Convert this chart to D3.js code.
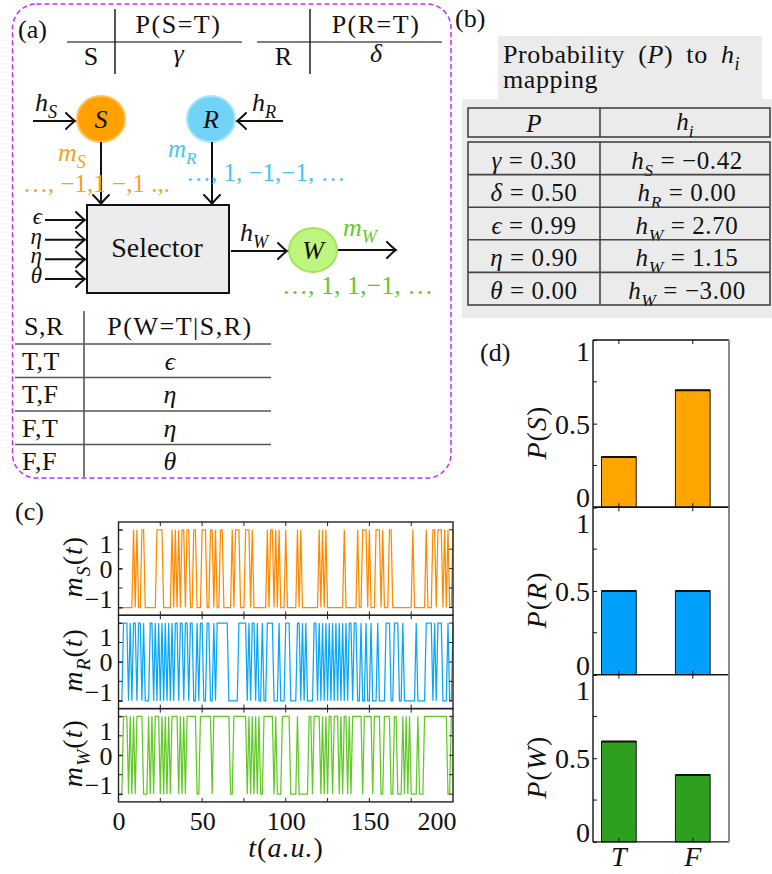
<!DOCTYPE html>
<html>
<head>
<meta charset="utf-8">
<script src="https://cdn.jsdelivr.net/npm/d3@7"></script>
<style>
  html, body { margin: 0; padding: 0; background: #fff; }
  svg { display: block; }
</style>
</head>
<body>
<svg id="fig" width="772" height="874"></svg>
<script>
// ---------------- data ----------------
// spin trajectories m(t) for t = 0..200
const mS = [
  -1,-1,-1,-1,-1,-1,-1,-1,-1, 1,
  -1, 1,-1,-1, 1, 1,-1,-1,-1,-1,
  -1,-1,-1, 1, 1, 1, 1,-1,-1,-1,
  -1,-1, 1,-1, 1,-1, 1,-1, 1, 1,
  -1, 1, 1,-1,-1, 1, 1,-1,-1,-1,
   1, 1, 1,-1,-1, 1, 1,-1, 1,-1,
  -1, 1, 1,-1,-1,-1,-1,-1, 1,-1,
   1, 1, 1,-1,-1,-1, 1, 1, 1,-1,
   1,-1,-1,-1,-1,-1,-1,-1,-1, 1,
  -1, 1, 1,-1, 1,-1, 1,-1,-1,-1,
   1,-1,-1,-1,-1,-1,-1, 1,-1, 1,
  -1,-1,-1,-1,-1,-1,-1,-1,-1,-1,
   1,-1, 1,-1, 1,-1,-1,-1,-1,-1,
  -1,-1,-1,-1,-1, 1,-1,-1,-1,-1,
  -1,-1,-1, 1,-1,-1, 1, 1, 1,-1,
   1,-1,-1,-1, 1, 1, 1,-1, 1,-1,
  -1,-1, 1, 1,-1,-1,-1,-1,-1,-1,
  -1,-1,-1,-1,-1,-1, 1,-1,-1,-1,
  -1,-1,-1,-1, 1,-1,-1,-1, 1, 1,
  -1, 1, 1, 1,-1, 1,-1, 1,-1,-1,
   1
];
const mR = [
  -1,-1,-1, 1, 1, 1,-1, 1,-1, 1,
   1,-1, 1, 1,-1, 1,-1,-1,-1, 1,
   1,-1, 1,-1, 1,-1, 1,-1, 1,-1,
   1,-1, 1,-1, 1, 1,-1, 1, 1,-1,
   1, 1,-1, 1, 1,-1,-1, 1,-1, 1,
   1,-1,-1, 1, 1,-1,-1, 1,-1, 1,
   1, 1, 1, 1, 1, 1,-1,-1,-1,-1,
  -1,-1, 1, 1, 1, 1, 1,-1, 1,-1,
   1, 1,-1, 1,-1,-1, 1,-1,-1, 1,
   1, 1, 1,-1,-1,-1, 1,-1,-1,-1,
   1, 1, 1,-1,-1,-1,-1, 1, 1,-1,
   1,-1, 1,-1,-1,-1,-1, 1, 1,-1,
   1,-1, 1,-1, 1,-1, 1,-1, 1,-1,
   1,-1, 1,-1, 1,-1, 1,-1, 1, 1,
  -1, 1, 1,-1,-1, 1,-1,-1, 1,-1,
  -1, 1,-1,-1,-1, 1,-1,-1,-1,-1,
   1, 1, 1,-1,-1, 1, 1, 1,-1,-1,
   1,-1,-1,-1,-1,-1,-1,-1, 1,-1,
  -1,-1,-1,-1, 1, 1, 1, 1,-1, 1,
  -1, 1, 1, 1,-1,-1,-1, 1,-1,-1,
   1
];
const mW = [
  -1,-1,-1, 1, 1, 1,-1, 1,-1, 1,
  -1, 1, 1, 1, 1,-1,-1,-1, 1,-1,
   1,-1, 1, 1, 1,-1, 1,-1, 1,-1,
   1,-1, 1, 1, 1, 1,-1, 1,-1, 1,
  -1, 1, 1, 1, 1, 1, 1,-1,-1, 1,
   1, 1, 1, 1, 1, 1,-1, 1, 1, 1,
   1, 1, 1, 1, 1, 1, 1,-1,-1, 1,
   1, 1, 1, 1, 1, 1, 1,-1, 1,-1,
   1,-1, 1,-1, 1,-1,-1, 1, 1, 1,
   1, 1, 1,-1, 1,-1,-1,-1, 1, 1,
   1, 1, 1,-1,-1,-1,-1, 1,-1,-1,
  -1,-1,-1,-1, 1, 1,-1, 1, 1, 1,
   1,-1, 1,-1, 1,-1, 1, 1,-1, 1,
   1, 1,-1, 1,-1, 1, 1,-1, 1,-1,
   1, 1, 1, 1, 1, 1,-1, 1, 1, 1,
   1, 1,-1, 1, 1, 1, 1,-1,-1, 1,
   1, 1, 1,-1,-1, 1, 1,-1,-1,-1,
   1,-1, 1,-1, 1,-1,-1,-1,-1, 1,
  -1,-1,-1, 1, 1, 1, 1, 1, 1, 1,
   1, 1, 1, 1, 1, 1, 1,-1,-1, 1,
   1
];
const timeTicks = [0, 50, 100, 150, 200];
const spinTicks = [-1, 0, 1];

// marginal probabilities for T / F
const states = ["T", "F"];
const probS = [0.30, 0.70];
const probR = [0.50, 0.50];
const probW = [0.60, 0.40];
const probTicks = [0, 0.5, 1];

// probability -> field mapping table
const mapSymbols = ["γ", "δ", "ϵ", "η", "θ"];
const mapProbs = ["0.30", "0.50", "0.99", "0.90", "0.00"];
const mapNodes = ["S", "R", "W", "W", "W"];
const mapFields = ["−0.42", "0.00", "2.70", "1.15", "−3.00"];

// conditional table of the selector
const condRows = ["T,T", "T,F", "F,T", "F,F"];
const condSymbols = ["ϵ", "η", "η", "θ"];
const selectorInputs = ["ϵ", "η", "η", "θ"];

// ---------------- helpers ----------------
const FONT = "'Liberation Serif', 'DejaVu Serif', serif";
const svg = d3.select("#fig");
svg.append("rect").attr("width", 772).attr("height", 874).attr("fill", "#fff");
const INK = "#111";

// text with italic / subscript parts: [string, style] where style is
// "r" roman, "i" italic, "sr" subscript roman, "si" subscript italic
function rich(parent, x, y, parts, o = {}) {
  const size = o.size || 24;
  const t = parent.append("text")
    .attr("x", x).attr("y", y)
    .attr("font-family", FONT)
    .attr("font-size", size)
    .attr("fill", o.fill || INK)
    .attr("text-anchor", o.anchor || "start");
  if (o.ls) t.attr("letter-spacing", o.ls);
  if (o.rotate) t.attr("transform", `rotate(${o.rotate},${x},${y})`);
  let shift = 0;
  parts.forEach(p => {
    const [str, style] = typeof p === "string" ? [p, "r"] : p;
    const sub = style[0] === "s";
    const target = sub ? size * 0.28 : 0;
    const ts = t.append("tspan").text(str)
      .attr("font-family", FONT)
      .attr("font-style", style.endsWith("i") ? "italic" : "normal")
      .attr("font-size", sub ? size * 0.7 : size);
    if (target !== shift) { ts.attr("dy", target - shift); shift = target; }
  });
  return t;
}

const defs = svg.append("defs");
defs.append("marker")
  .attr("id", "tip")
  .attr("viewBox", "-12 -10 14 20")
  .attr("refX", 0).attr("refY", 0)
  .attr("markerWidth", 14).attr("markerHeight", 20)
  .attr("markerUnits", "userSpaceOnUse")
  .attr("orient", "auto")
  .append("path")
  .attr("d", "M-9,-8 Q-3,-2 0,0 Q-3,2 -9,8")
  .attr("fill", "none").attr("stroke", INK)
  .attr("stroke-width", 2).attr("stroke-linecap", "round");

function arrow(parent, x1, y1, x2, y2) {
  parent.append("line")
    .attr("x1", x1).attr("y1", y1).attr("x2", x2).attr("y2", y2)
    .attr("stroke", INK).attr("stroke-width", 2)
    .attr("marker-end", "url(#tip)");
}
function hline(parent, x1, x2, y, color = "#555", w = 1.6) {
  parent.append("line").attr("x1", x1).attr("x2", x2).attr("y1", y).attr("y2", y)
    .attr("stroke", color).attr("stroke-width", w);
}
function vline(parent, x, y1, y2, color = "#555", w = 1.6) {
  parent.append("line").attr("x1", x).attr("x2", x).attr("y1", y1).attr("y2", y2)
    .attr("stroke", color).attr("stroke-width", w);
}

// ---------------- (a) network diagram ----------------
const ga = svg.append("g");
ga.append("rect")
  .attr("x", 12.5).attr("y", 4).attr("width", 438.5).attr("height", 474)
  .attr("rx", 24).attr("fill", "none")
  .attr("stroke", "#c52bff").attr("stroke-width", 1.5).attr("stroke-dasharray", "5,3");
rich(ga, 18, 38, ["(a)"], { size: 26 });

// prior tables for S and R
[["S", "γ", 67, 115, 242], ["R", "δ", 257, 310, 442]].forEach(([node, sym, x0, xv, x1]) => {
  hline(ga, x0, x1, 42);
  vline(ga, xv, 9, 74, INK, 1.4);
  rich(ga, (xv + x1) / 2, 33, [`P(${node}=T)`], { size: 26, anchor: "middle", ls: 1.5 });
  rich(ga, (x0 + xv) / 2, 65, [node], { size: 26, anchor: "middle" });
  rich(ga, (xv + x1) / 2, 62, [[sym, "i"]], { size: 26, anchor: "middle" });
});

// nodes
const nodes = [
  { id: "S", cx: 101, cy: 119, rx: 24, ry: 23, fill: "#ffa200", stroke: "#ffbf57" },
  { id: "R", cx: 211, cy: 119, rx: 24, ry: 23, fill: "#73d3f7", stroke: "#a9e4fa" },
  { id: "W", cx: 313, cy: 250, rx: 24, ry: 22, fill: "#bdf57e", stroke: "#a3e35f" }
];
nodes.forEach(n => {
  ga.append("ellipse").attr("cx", n.cx).attr("cy", n.cy).attr("rx", n.rx).attr("ry", n.ry)
    .attr("fill", n.fill).attr("stroke", n.stroke).attr("stroke-width", 2);
  rich(ga, n.cx, n.cy + 9, [[n.id, "i"]], { size: 26, anchor: "middle" });
});

// external fields
arrow(ga, 33, 121, 75, 121);
rich(ga, 35, 111, [["h", "i"], ["S", "si"]], { size: 26 });
arrow(ga, 283, 121, 237, 121);
rich(ga, 252, 111, [["h", "i"], ["R", "si"]], { size: 26 });

// outputs into selector
arrow(ga, 101, 142, 101, 204);
arrow(ga, 212, 142, 212, 204);
rich(ga, 58, 161, [["m", "i"], ["S", "si"]], { size: 26, fill: "#f7a21c" });
rich(ga, 168, 157, [["m", "i"], ["R", "si"]], { size: 25, fill: "#48c3f2" });
rich(ga, 23, 192, ["…, −1,1 −,1 .,."], { size: 25, fill: "#f7a21c" });
rich(ga, 186, 181, ["…, 1, −1,−1, …"], { size: 25, fill: "#48c3f2" });

// selector block
ga.append("rect").attr("x", 87).attr("y", 205).attr("width", 142).attr("height", 88)
  .attr("fill", "#ececec").attr("stroke", INK).attr("stroke-width", 2);
rich(ga, 157, 257, ["Selector"], { size: 28, anchor: "middle" });
const inY = d3.scalePoint().domain(d3.range(selectorInputs.length)).range([220, 279]);
selectorInputs.forEach((s, i) => {
  arrow(ga, 45, inY(i), 85, inY(i));
  rich(ga, 42, inY(i) + 4, [[s, "i"]], { size: 23, anchor: "end" });
});

// output to W
arrow(ga, 231, 251, 287, 251);
rich(ga, 240, 241, [["h", "i"], ["W", "si"]], { size: 26 });
arrow(ga, 338, 250, 396, 250);
rich(ga, 343, 236, [["m", "i"], ["W", "si"]], { size: 26, fill: "#66c72a" });
rich(ga, 282, 294, ["…, 1, 1,−1, …"], { size: 26, fill: "#66c72a" });

// conditional table
const rowTop = d3.scaleLinear().domain([0, condRows.length]).range([344, 478]);
vline(ga, 84, 311, 477);
condRows.forEach((r, i) => hline(ga, 15, 271, rowTop(i)));
rich(ga, 24, 335, ["S,R"], { size: 26, ls: 0.5 });
rich(ga, 180, 335, ["P(W=T|S,R)"], { size: 26, anchor: "middle", ls: 1.5 });
condRows.forEach((r, i) => {
  const yb = (rowTop(i) + rowTop(i + 1)) / 2 + 9;
  rich(ga, 22, yb, [r], { size: 26, ls: 0.5 });
  rich(ga, 170, yb, [[condSymbols[i], "i"]], { size: 26, anchor: "middle" });
});

// ---------------- (b) mapping table ----------------
const gb = svg.append("g");
rich(gb, 455, 27, ["(b)"], { size: 26 });
gb.append("rect").attr("x", 498).attr("y", 36).attr("width", 264).attr("height", 63).attr("fill", "#ebebeb");
rich(gb, 503, 63, ["Probability (", ["P", "i"], ") to ", ["h", "i"], ["i", "si"]], { size: 26 })
  .attr("word-spacing", 6).attr("letter-spacing", 0.6);
rich(gb, 503, 88, ["mapping"], { size: 26, ls: 0.6 });
gb.append("rect").attr("x", 462).attr("y", 99).attr("width", 310).attr("height", 219).attr("fill", "#ebebeb");

const colL = [468, 600], colR = [600, 770];
gb.append("rect").attr("x", 468).attr("y", 108).attr("width", 302).attr("height", 29)
  .attr("fill", "none").attr("stroke", "#444").attr("stroke-width", 1.6);
rich(gb, (colL[0] + colL[1]) / 2, 132, [["P", "i"]], { size: 25, anchor: "middle" });
rich(gb, (colR[0] + colR[1]) / 2, 130, [["h", "i"], ["i", "si"]], { size: 25, anchor: "middle" });

const rowB = d3.scaleLinear().domain([0, mapSymbols.length]).range([142, 305]);
gb.append("rect").attr("x", 468).attr("y", rowB(0)).attr("width", 302).attr("height", rowB(5) - rowB(0))
  .attr("fill", "none").attr("stroke", "#444").attr("stroke-width", 1.6);
vline(gb, 600, 108, 137, "#444");
vline(gb, 600, rowB(0), rowB(5), "#444");
mapSymbols.forEach((s, i) => {
  if (i > 0) hline(gb, 468, 770, rowB(i), "#444");
  const yb = rowB(i + 1) - 6;
  rich(gb, (colL[0] + colL[1]) / 2, yb, [[s, "i"], " = " + mapProbs[i]], { size: 25, anchor: "middle", ls: 0.6 });
  rich(gb, (colR[0] + colR[1]) / 2 + 2, yb, [["h", "i"], [mapNodes[i], "si"], " = " + mapFields[i]], { size: 25, anchor: "middle", ls: 0.6 });
});

// ---------------- (c) time series ----------------
const gc = svg.append("g");
rich(gc, 15, 520, ["(c)"], { size: 26 });
const tScale = d3.scaleLinear().domain([0, 200]).range([118.5, 453]);
const cTops = [522, 615.3, 708.6];
const cH = 93.3;
const cSeries = [
  { data: mS, color: "#ff8a00", sub: "S" },
  { data: mR, color: "#0aa6f8", sub: "R" },
  { data: mW, color: "#62c928", sub: "W" }
];
function placeEdgeLabels(sel, lo, hi, fsize, hiDy) {
  sel.selectAll(".tick text")
    .attr("font-size", fsize)
    .attr("font-family", FONT)
    .attr("fill", INK)
    .attr("dy", d => d === hi ? hiDy : d === lo ? "-0.02em" : "0.34em");
}
cSeries.forEach((s, i) => {
  const top = cTops[i];
  const y = d3.scaleLinear().domain([-1.2, 1.2]).range([top + cH, top]);
  const g = gc.append("g");
  g.append("path").datum(s.data)
    .attr("d", d3.line().x((d, j) => tScale(j)).y(d => y(d)))
    .attr("fill", "none").attr("stroke", s.color).attr("stroke-width", 1.25)
    .attr("stroke-linejoin", "miter");
  // frame
  g.append("rect").attr("x", tScale.range()[0]).attr("y", top)
    .attr("width", tScale.range()[1] - tScale.range()[0]).attr("height", cH)
    .attr("fill", "none").attr("stroke", "#222").attr("stroke-width", 1.4);
  // left axis with labels
  const left = g.append("g").attr("transform", `translate(${tScale.range()[0]},0)`)
    .call(d3.axisLeft(y).tickValues(spinTicks).tickSize(-4).tickPadding(6)
      .tickFormat(d => d < 0 ? "−" + Math.abs(d) : String(d)));
  left.select(".domain").remove();
  left.selectAll(".tick line").attr("stroke", "#222");
  placeEdgeLabels(left, -1, 1, 26, "0.88em");
  // minor and right ticks
  [-1, -0.5, 0, 0.5, 1].forEach(v => {
    g.append("line").attr("x1", tScale.range()[0]).attr("x2", tScale.range()[0] + 4)
      .attr("y1", y(v)).attr("y2", y(v)).attr("stroke", "#222");
    g.append("line").attr("x1", tScale.range()[1]).attr("x2", tScale.range()[1] - 4)
      .attr("y1", y(v)).attr("y2", y(v)).attr("stroke", "#222");
  });
  d3.range(25, 200, 25).forEach(v => {
    g.append("line").attr("x1", tScale(v)).attr("x2", tScale(v))
      .attr("y1", top).attr("y2", top + 4).attr("stroke", "#222");
    g.append("line").attr("x1", tScale(v)).attr("x2", tScale(v))
      .attr("y1", top + cH).attr("y2", top + cH - 4).attr("stroke", "#222");
  });
  rich(gc, 82, top + cH / 2 - 2, [["m", "i"], [s.sub, "si"], "(", ["t", "i"], ")"],
    { size: 28, anchor: "middle", rotate: -90, ls: 1 });
});
const xAxisC = gc.append("g").attr("transform", `translate(0,${cTops[2] + cH})`)
  .call(d3.axisBottom(tScale).tickValues(timeTicks).tickSize(0).tickPadding(10));
xAxisC.select(".domain").remove();
xAxisC.selectAll(".tick text").attr("font-size", 26).attr("font-family", FONT)
  .attr("fill", INK)
  .attr("text-anchor", d => d === 200 ? "end" : "middle")
  .attr("x", d => d === 200 ? 3 : 0);
rich(gc, 286, 857, [["t", "i"], "(", ["a.u.", "i"], ")"], { size: 28, anchor: "middle", ls: 1 });

// ---------------- (d) marginal probabilities ----------------
const gd = svg.append("g");
rich(gd, 480, 361, ["(d)"], { size: 26 });
const bx = d3.scaleLinear().domain([0.65, 2.49]).range([593, 729]);
const barW = 0.47;
const dTops = [340, 507.3, 674.6];
const dH = 167.3;
const dPanels = [
  { vals: probS, color: "#ffa500", sym: "S" },
  { vals: probR, color: "#00a0fb", sym: "R" },
  { vals: probW, color: "#2f9f1f", sym: "W" }
];
dPanels.forEach((p, i) => {
  const top = dTops[i];
  const y = d3.scaleLinear().domain([0, 1]).range([top + dH, top]);
  const g = gd.append("g");
  g.selectAll("rect.bar").data(p.vals).join("rect")
    .attr("class", "bar")
    .attr("x", (d, j) => bx(j + 1 - barW / 2))
    .attr("width", bx(barW) - bx(0))
    .attr("y", d => y(d))
    .attr("height", d => y(0) - y(d))
    .attr("fill", p.color).attr("stroke", "#1a1a1a").attr("stroke-width", 1);
  g.selectAll("line.cap").data(p.vals).join("line")
    .attr("class", "cap")
    .attr("x1", (d, j) => bx(j + 1 - barW / 2)).attr("x2", (d, j) => bx(j + 1 + barW / 2))
    .attr("y1", d => y(d)).attr("y2", d => y(d))
    .attr("stroke", "#111").attr("stroke-width", 2);
  // frame: black left/top/bottom, grey right
  hline(g, bx.range()[0], bx.range()[1], top, "#111", 1.4);
  hline(g, bx.range()[0], bx.range()[1], top + dH, "#111", 1.4);
  vline(g, bx.range()[0], top, top + dH, "#111", 1.4);
  vline(g, bx.range()[1], top, top + dH, "#8a8a8a", 2);
  const left = g.append("g").attr("transform", `translate(${bx.range()[0]},0)`)
    .call(d3.axisLeft(y).tickValues(probTicks).tickSize(-4).tickPadding(3)
      .tickFormat(d3.format("")));
  left.select(".domain").remove();
  left.selectAll(".tick line").attr("stroke", "#111");
  placeEdgeLabels(left, 0, 1, 28, i === 0 ? "0.72em" : "0.9em");
  [0.25, 0.75].forEach(v => {
    g.append("line").attr("x1", bx.range()[0]).attr("x2", bx.range()[0] + 4)
      .attr("y1", y(v)).attr("y2", y(v)).attr("stroke", "#111");
  });
  states.forEach((s, j) => {
    g.append("line").attr("x1", bx(j + 1)).attr("x2", bx(j + 1))
      .attr("y1", top).attr("y2", top + 4).attr("stroke", "#111");
    g.append("line").attr("x1", bx(j + 1)).attr("x2", bx(j + 1))
      .attr("y1", top + dH).attr("y2", top + dH - 4).attr("stroke", "#111");
  });
  rich(gd, 546, top + dH / 2 + 9, [["P", "i"], "(", [p.sym, "i"], ")"],
    { size: 28, anchor: "middle", rotate: -90, ls: 1 });
});
states.forEach((s, j) => {
  rich(gd, bx(j + 1), 866, [[s, "i"]], { size: 28, anchor: "middle" });
});
</script>
</body>
</html>
